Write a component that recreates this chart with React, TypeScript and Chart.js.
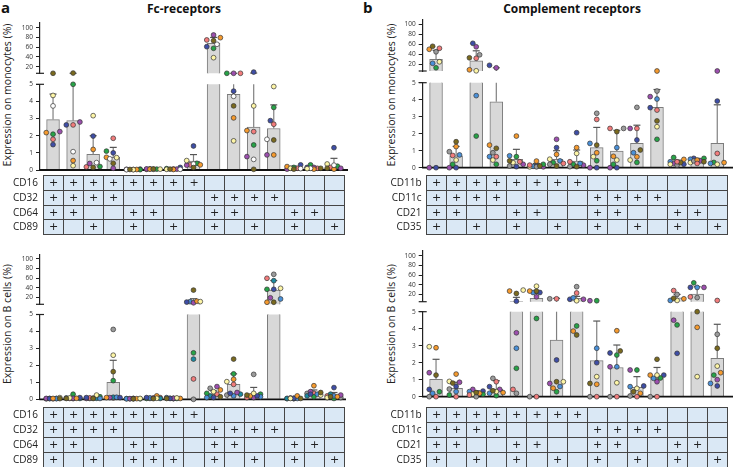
import React, { useEffect, useRef } from 'react';
import { Chart, registerables } from 'chart.js';

Chart.register(...registerables);

const FONT = '"Open Sans", "Noto Sans", sans-serif';
Chart.defaults.font.family = FONT;

const COLUMNS = 15;
const LOW_MAX = 5;
const UPPER_TICKS = [20, 40, 60, 80, 100];
const LOWER_TICKS = [0, 1, 2, 3, 4, 5];

const PALETTE: Record<string, string> = {
  olive: '#7a6a1f',
  yellow: '#fdf5a6',
  white: '#ffffff',
  orange: '#f59a2e',
  purple: '#9c4fae',
  green: '#27a347',
  pink: '#f27c7c',
  navy: '#3f4ea6',
  lightblue: '#4a90d8',
  gray: '#9b9b9b',
  teal: '#1b8aa0',
};

// ---------- table rows ----------
const FC_RECEPTORS = ['CD16', 'CD32', 'CD64', 'CD89'];
const COMP_RECEPTORS = ['CD11b', 'CD11c', 'CD21', 'CD35'];
const FC_MONO_TABLE = [
  [1, 1, 1, 1, 1, 1, 1, 1, 0, 0, 0, 0, 0, 0, 0],
  [1, 1, 1, 1, 0, 0, 0, 0, 1, 1, 1, 1, 0, 0, 0],
  [1, 1, 0, 0, 1, 1, 0, 0, 1, 1, 0, 0, 1, 1, 0],
  [1, 0, 1, 0, 1, 0, 1, 0, 1, 0, 1, 0, 1, 0, 1],
];
const FC_B_TABLE = [
  [1, 1, 1, 1, 1, 1, 1, 1, 0, 0, 0, 0, 0, 0, 0],
  [1, 1, 1, 1, 0, 0, 0, 0, 1, 1, 1, 1, 0, 0, 0],
  [1, 1, 0, 0, 1, 1, 0, 0, 1, 1, 0, 0, 1, 1, 0],
  [1, 0, 1, 0, 1, 1, 1, 0, 1, 0, 1, 0, 1, 0, 1],
];
const COMP_TABLE = [
  [1, 1, 1, 1, 1, 1, 1, 1, 0, 0, 0, 0, 0, 0, 0],
  [1, 1, 1, 1, 0, 0, 0, 0, 1, 1, 1, 1, 0, 0, 0],
  [1, 1, 0, 0, 1, 1, 0, 0, 1, 1, 0, 0, 1, 1, 0],
  [1, 0, 1, 0, 1, 0, 1, 0, 1, 0, 1, 0, 1, 0, 1],
];

// ---------- Fc receptors, monocytes ----------
const FC_MONO_MEAN = [2.94, 2.88, 0.92, 0.74, 0.03, 0.05, 0.06, 0.52, 68, 4.42, 2.5, 2.42, 0.13, 0.13, 0.23];
const FC_MONO_ERR_HI = [4.43, 5.6, 2.0, 1.32, 0.05, 0.08, 0.12, 0.9, 80, 6.2, 7, 3.8, 0.22, 0.2, 0.68];
const FC_MONO_DONORS = ['olive', 'yellow', 'white', 'orange', 'purple', 'green', 'pink', 'navy'];
const FC_MONO_VALUES = [
  [6, 7, 0.15, 0.39, 0.03, 0.06, 0.05, 0.14, 73.3, 3.74, 0.04, 1.75, 0.05, 0.1, 0.1],
  [4.35, 0.25, 3.17, 0.72, 0.02, 0.05, 0.04, 0.55, 38.5, 1.7, 3.74, 4.87, 0.1, 0.08, 0.35],
  [3.74, 1.07, 0.43, 0.65, 0.02, 0.04, 0.04, 0.35, 66, 4.3, 0.62, 1.79, 0.08, 0.1, 0.28],
  [2.18, 0.55, 1.2, 0.74, 0.03, 0.05, 0.03, 0.3, 79.5, 3.04, 2.3, 0.88, 0.2, 0.05, 0.05],
  [2.24, 2.8, 0.38, 0.1, 0.04, 0.06, 0.05, 0.28, 85, 6, 0.78, 0.88, 0.05, 0.15, 0.1],
  [2.09, 5.0, 0.2, 1.1, 0.02, 0.05, 0.08, 0.39, 57.7, 6, 1.46, 3.65, 0.15, 0.3, 0.22],
  [1.79, 2.63, 0.18, 1.85, 0.03, 0.04, 0.06, 0.3, 74.8, 6, 2.24, 2.67, 0.1, 0.1, 0.15],
  [1.48, 2.63, 1.98, 1.0, 0.05, 0.07, 0.15, 1.4, 61, 4.6, 9, 2.88, 0.3, 0.15, 1.3],
];

// ---------- Fc receptors, B cells ----------
const FC_B_MEAN = [0.05, 0.09, 0.09, 1.0, 0.04, 0.08, 0.06, 11, 0.3, 0.88, 0.31, 35, 0.06, 0.35, 0.22];
const FC_B_ERR_HI = [0.08, 0.15, 0.15, 2.3, 0.06, 0.12, 0.09, 17, 0.5, 1.5, 0.7, 55, 0.1, 0.55, 0.4];
const FC_B_DONORS = ['olive', 'yellow', 'orange', 'navy', 'purple', 'lightblue', 'green', 'teal', 'pink', 'gray'];
const FC_B_VALUES = [
  [0.04, 0.05, 0.05, 1.63, 0.03, 0.04, 0.05, 35, 0.15, 2.37, 0.25, 9.7, 0.05, 0.4, 0.15],
  [0.1, 0.08, 0.25, 2.6, 0.05, 0.06, 0.08, 11, 0.45, 1.04, 0.35, 38.8, 0.05, 0.25, 0.1],
  [0.05, 0.06, 0.07, 0.1, 0.04, 0.2, 0.05, 12, 0.55, 1.18, 0.2, 9.7, 0.2, 0.8, 0.15],
  [0.04, 0.1, 0.1, 0.1, 0.04, 0.1, 0.05, 10, 0.1, 0.35, 0.2, 36.7, 0.06, 0.3, 0.69],
  [0.05, 0.06, 0.05, 0.1, 0.04, 0.08, 0.06, 8.5, 0.75, 0.4, 0.1, 19, 0.08, 0.45, 0.25],
  [0.04, 0.08, 0.05, 0.12, 0.03, 0.08, 0.1, 11, 0.1, 0.2, 0.15, 16.5, 0.05, 0.3, 0.2],
  [0.05, 0.3, 0.15, 1.1, 0.03, 0.05, 0.05, 2.74, 0.35, 1.5, 0.3, 36.7, 0.05, 0.15, 0.05],
  [0.05, 0.05, 0.06, 0.12, 0.04, 0.05, 0.04, 2.37, 0.2, 0.3, 0.2, 54.7, 0.05, 0.2, 0.3],
  [0.03, 0.05, 0.08, 0.08, 0.05, 0.1, 0.05, 1.2, 0.3, 0.88, 0.1, 59.7, 0.04, 0.35, 0.2],
  [0.03, 0.04, 0.05, 4.12, 0.03, 0.05, 0.06, 0, 0.65, 0.25, 1.47, 68, 0.04, 0.35, 0.1],
];

// ---------- Complement receptors, monocytes ----------
const COMP_MONO_MEAN = [30, 0.7, 27, 3.88, 0.49, 0.13, 0.49, 0.39, 1.18, 0.98, 1.43, 3.55, 0.3, 0.42, 1.43];
const COMP_MONO_ERR_HI = [48, 1.25, 47, 13, 1.08, 0.25, 1.0, 1.04, 2.37, 2.2, 2.5, 4.6, 0.45, 0.55, 3.7];
const COMP_MONO_DONORS = ['pink', 'olive', 'orange', 'gray', 'yellow', 'lightblue', 'green', 'navy', 'purple'];
const COMP_MONO_VALUES = [
  [52, 0.72, 32, 0.65, 0.35, 0.15, 0.25, 0.35, 2.84, 2.31, 2.31, 3.39, 0.35, 0.25, 0.84],
  [56, 1.53, 33, 1.14, 0.4, 0.1, 0.1, 0.06, 1.33, 2.12, 1.04, 2.75, 0.3, 0.35, null],
  [50, 1.24, 9, 1.33, 1.86, 0.39, 0.78, 1.18, 0.88, 0.67, 0.64, 6, 0.49, 0.45, 0.3],
  [45, 0.94, 39, 0.88, 0.1, 0.05, 0.2, 0.06, 3.2, 2.31, 3.55, 4.51, 0.15, 0.4, null],
  [25, 0.45, 7, 0.45, 0.3, 0.05, 0.5, 0.84, 0.65, 0.45, 0.45, 2.41, 0.2, 0.3, 0.2],
  [22, 0.75, 4.24, 0.65, 0.7, 0.08, 0.4, 0.25, 1.43, 1.18, 0.88, 4.04, 0.35, 0.5, 0.25],
  [13, 0.2, 1.86, 0.2, 0.65, 0.2, 0.3, 0.2, 0.41, 0.2, 0.31, 1.67, 0.6, 0.55, 0.31],
  [0, 0, 62, 18, 0.06, 0.1, 1.18, 2.06, 0, 0, 1.63, 3.53, 0.2, 0.55, 3.92],
  [0, 0, 55, 13, 0.2, 0.05, 1.67, 0.15, 0, 0, 2.31, 4.18, 0.25, 0.4, 6],
];

// ---------- Complement receptors, B cells ----------
const COMP_B_MEAN = [1.02, 0.49, 0.2, 0.43, 5.5, 12, 3.33, 12, 2.12, 1.72, 0.55, 1.08, 13, 20.7, 2.26];
const COMP_B_ERR_HI = [2.2, 0.85, 0.35, 0.94, 14, 22, 12, 16, 4.45, 3.04, 1.18, 1.72, 20, 36, 4.26];
const COMP_B_DONORS = ['pink', 'olive', 'orange', 'gray', 'yellow', 'lightblue', 'green', 'navy', 'purple'];
const COMP_B_VALUES = [
  [0, 0, 0.1, 0.88, 0.43, 0, 11, 23, 0, 0, 0, 0, 28, 15, 7.5],
  [1.27, 0.8, 0.24, 0.35, 22, 27, 0.88, 3.63, 0.78, 2.69, 0.29, 2.2, 12, 5, 2.85],
  [2.88, 1.33, 0.2, 0.24, 27, 27, 0.5, 3.86, 0.73, 3.88, 0.2, 1.27, 11, 4.08, 1.41],
  [0, 0.45, 0, 1.08, 0.2, 0, 11, 36, 0, 0, 0.04, 0, 20, 13.5, 3.67],
  [2.94, 0.9, 0.15, 0.3, 29, 37, 0.88, 7, 1.18, 0.82, 0.49, 1.27, 7.6, 1.18, 1.8],
  [0.2, 0.3, 0.3, 0.2, 2.85, 24, 0.6, 13, 2.85, 1.76, 0.59, 1.08, 7.6, 34.5, 0.78],
  [0.29, 0.1, 0.14, 0.06, 1.67, 4.6, 0.29, 4.16, 7, 2.45, 1.57, 1.1, 4.22, 44, 1.27],
  [0.43, 0.6, 0.33, 0.59, 6, 24, 2.16, 10, 2.0, 2.57, 0.63, 1.27, 2.55, 34.5, 0.63],
  [1.41, 0.85, 0.43, 0.43, 3.76, 15, 0.78, 10, 7, 1.76, 1.57, 0.88, 4.5, 34.5, 1.0],
];

// ---------- layout (page pixels) ----------
type Seg = { min: number; max: number; top: number; bottom: number; ticks: number[] };
type Geom = { axisX: number; right: number; colL: number; colR: number; upper: Seg; lower: Seg };

const G_FC_MONO: Geom = {
  axisX: 40, right: 348, colL: 43, colR: 344,
  upper: { min: 6.5, max: 110, top: 22.8, bottom: 73.3, ticks: UPPER_TICKS },
  lower: { min: 0, max: LOW_MAX, top: 84.3, bottom: 170, ticks: LOWER_TICKS },
};
const G_FC_B: Geom = {
  axisX: 40, right: 346, colL: 43, colR: 344,
  upper: { min: 5.4, max: 110, top: 254.2, bottom: 304.3, ticks: UPPER_TICKS },
  lower: { min: 0, max: LOW_MAX, top: 314.5, bottom: 399.3, ticks: LOWER_TICKS },
};
const G_COMP_MONO: Geom = {
  axisX: 422.7, right: 733, colL: 426, colR: 727.3,
  upper: { min: 6.6, max: 110, top: 19.3, bottom: 71, ticks: UPPER_TICKS },
  lower: { min: 0, max: LOW_MAX, top: 82.7, bottom: 167.7, ticks: LOWER_TICKS },
};
const G_COMP_B: Geom = {
  axisX: 422.7, right: 733, colL: 426, colR: 727.3,
  upper: { min: 5, max: 110, top: 250.9, bottom: 301.7, ticks: UPPER_TICKS },
  lower: { min: 0, max: LOW_MAX, top: 311.7, bottom: 396.7, ticks: LOWER_TICKS },
};

function pageY(g: Geom, v: number) {
  if (v <= LOW_MAX + 0.02) {
    return g.lower.bottom - ((v - g.lower.min) / (g.lower.max - g.lower.min)) * (g.lower.bottom - g.lower.top);
  }
  const vv = Math.max(v, g.upper.min);
  return g.upper.bottom - ((vv - g.upper.min) / (g.upper.max - g.upper.min)) * (g.upper.bottom - g.upper.top);
}

// beeswarm-like horizontal spreading of dots (computed layout, in x-units)
function swarm(g: Geom, values: (number | null)[][]): number[][] {
  const colW = (g.colR - g.colL) / COLUMNS;
  const D = 4.8;
  const STEP = 3.4;
  const out = values.map((r) => r.map(() => 0));
  for (let i = 0; i < COLUMNS; i++) {
    const pts: { d: number; y: number }[] = [];
    values.forEach((row, d) => {
      const v = row[i];
      if (v !== null && v !== undefined) pts.push({ d, y: pageY(g, v) });
    });
    pts.sort((a, b) => b.y - a.y);
    const placed: { x: number; y: number }[] = [];
    for (const p of pts) {
      let best = 0;
      let bestScore = -Infinity;
      for (const k of [0, -1, 1, -2, 2]) {
        const x = k * STEP;
        let minD = Infinity;
        for (const q of placed) minD = Math.min(minD, Math.hypot(q.x - x, q.y - p.y));
        if (minD >= D) { best = x; bestScore = Infinity; break; }
        if (minD > bestScore + 0.01) { bestScore = minD; best = x; }
      }
      placed.push({ x: best, y: p.y });
      out[p.d][i] = best / colW;
    }
  }
  return out;
}

type SegProps = {
  g: Geom; upper: boolean; means: number[]; errHi: number[];
  donors: string[]; values: (number | null)[][]; offsets: number[][];
};

function SegChart({ g, upper, means, errHi, donors, values, offsets }: SegProps) {
  const ref = useRef<HTMLCanvasElement>(null);
  const seg = upper ? g.upper : g.lower;
  const AXW = 30, PAD = 12, PADR = 4;
  const leftF = g.axisX - AXW;
  const cl = Math.floor(leftF);
  const padL = leftF - cl;
  const cw = Math.ceil(g.right + PADR - cl);
  const padR = cw - (g.right - cl);
  const ct = Math.floor(seg.top - PAD);
  const ch = Math.ceil(seg.bottom + PAD) - ct;
  const padT = seg.top - ct;
  const padB = ch - (seg.bottom - ct);
  const colW = (g.colR - g.colL) / COLUMNS;
  const xMin = -0.5 - (g.colL - g.axisX) / colW;
  const xMax = COLUMNS - 0.5 + (g.right - g.colR) / colW;

  useEffect(() => {
    if (!ref.current) return;
    const barData = means.map((m, i) => ({
      x: i,
      y: upper ? (m > LOW_MAX ? Math.max(m, seg.min) : null) : m,
    }));
    const datasets: any[] = [
      {
        type: 'bar',
        data: barData,
        backgroundColor: '#d8d8d8',
        borderColor: '#7c7c7c',
        borderWidth: 1,
        borderSkipped: 'start',
        barThickness: colW * 0.64,
        order: 5,
      },
    ];
    donors.forEach((name, d) => {
      const pts: any[] = [];
      values[d].forEach((v, i) => {
        if (v === null || v === undefined) return;
        const inLow = v <= LOW_MAX + 0.02;
        if (upper === inLow) return;
        pts.push({ x: i + offsets[d][i], y: upper ? Math.max(v, seg.min) : v });
      });
      datasets.push({
        type: 'scatter',
        data: pts,
        pointRadius: 2.4,
        pointHoverRadius: 2.4,
        pointBorderWidth: 0.7,
        pointBackgroundColor: PALETTE[name],
        pointBorderColor: '#333333',
        showLine: false,
        clip: false,
        order: 0,
      });
    });

    const decor = {
      id: 'decor',
      afterDatasetDraw(chart: any, args: any) {
        if (args.index !== 0) return;
        const ctx = chart.ctx;
        const xs = chart.scales.x;
        const ys = chart.scales.y;
        const area = chart.chartArea;
        ctx.save();
        // error bars
        means.forEach((m, i) => {
          const hi = errHi[i];
          const x = xs.getPixelForValue(i);
          let y1: number | null = null;
          let y2: number | null = null;
          let cap = false;
          if (!upper) {
            if (m < LOW_MAX) {
              y1 = ys.getPixelForValue(m);
              y2 = ys.getPixelForValue(Math.min(hi, seg.max));
              cap = hi <= seg.max;
            }
          } else if (hi > LOW_MAX) {
            y1 = m > LOW_MAX ? ys.getPixelForValue(Math.max(m, seg.min)) : area.bottom;
            y2 = ys.getPixelForValue(Math.max(hi, seg.min));
            cap = true;
          }
          if (y1 === null || y2 === null) return;
          ctx.strokeStyle = '#808080';
          ctx.lineWidth = 1.2;
          ctx.beginPath();
          ctx.moveTo(x, y1);
          ctx.lineTo(x, y2);
          ctx.stroke();
          if (cap) {
            ctx.strokeStyle = '#555555';
            ctx.beginPath();
            ctx.moveTo(x - 3.5, y2);
            ctx.lineTo(x + 3.5, y2);
            ctx.stroke();
          }
        });
        // baseline
        if (!upper) {
          const y0 = ys.getPixelForValue(0);
          ctx.strokeStyle = '#111111';
          ctx.lineWidth = 1.8;
          ctx.beginPath();
          ctx.moveTo(area.left - 0.6, y0);
          ctx.lineTo(area.right, y0);
          ctx.stroke();
        }
        ctx.restore();
      },
      afterDraw(chart: any) {
        const ctx = chart.ctx;
        const area = chart.chartArea;
        const y = upper ? area.bottom : area.top;
        ctx.save();
        ctx.strokeStyle = '#222222';
        ctx.lineWidth = 1.2;
        ctx.beginPath();
        ctx.moveTo(area.left - 4, y);
        ctx.lineTo(area.left + 4, y);
        ctx.stroke();
        ctx.restore();
      },
    };

    const chart = new Chart(ref.current, {
      type: 'bar',
      data: { datasets },
      options: {
        animation: false,
        responsive: false,
        devicePixelRatio: 1,
        events: [],
        layout: { padding: { left: padL, right: padR, top: padT, bottom: padB } },
        plugins: { legend: { display: false }, tooltip: { enabled: false } },
        scales: {
          x: { type: 'linear', display: false, offset: false, min: xMin, max: xMax },
          y: {
            type: 'linear',
            min: seg.min,
            max: seg.max,
            afterFit: (s: any) => { s.width = AXW; },
            afterBuildTicks: (s: any) => { s.ticks = seg.ticks.map((v) => ({ value: v })); },
            ticks: { font: { family: FONT, size: 6.5 }, color: '#333333', padding: 3, autoSkip: false },
            grid: { drawOnChartArea: false, drawTicks: true, tickLength: 4, color: '#222222', lineWidth: 1 },
            border: { display: true, color: '#222222', width: 1.2 },
          },
        },
      } as any,
      plugins: [decor],
    } as any);
    return () => chart.destroy();
  }, []);

  return (
    <canvas
      ref={ref}
      width={cw}
      height={ch}
      style={{ position: 'absolute', left: cl, top: ct, width: cw, height: ch, display: 'block' }}
    />
  );
}

function ReceptorTable({ x0, x1, y0, y1, labelRight, labels, marks }: {
  x0: number; x1: number; y0: number; y1: number; labelRight: number; labels: string[]; marks: number[][];
}) {
  const colW = (x1 - x0) / COLUMNS;
  const rowH = (y1 - y0) / labels.length;
  const cells: any[] = [];
  labels.forEach((lab, r) => {
    cells.push(
      <div key={'l' + r} style={{
        position: 'absolute', left: labelRight - 60, width: 60, top: y0 + r * rowH, height: rowH,
        lineHeight: rowH + 'px', textAlign: 'right', fontSize: 10, color: '#222',
      }}>{lab}</div>
    );
    for (let c = 0; c < COLUMNS; c++) {
      const l = Math.round(x0 + c * colW);
      const rr = Math.round(x0 + (c + 1) * colW);
      const t = Math.round(y0 + r * rowH);
      const b = Math.round(y0 + (r + 1) * rowH);
      cells.push(
        <div key={r + '-' + c} style={{
          position: 'absolute', left: l, top: t, width: rr - l + 1, height: b - t + 1,
          boxSizing: 'border-box', border: '1px solid #454545', background: '#dae8f5',
          textAlign: 'center', lineHeight: (b - t - 1) + 'px', fontSize: 11,
          fontFamily: '"DejaVu Sans", sans-serif', color: '#222',
        }}>{marks[r][c] ? '+' : ''}</div>
      );
    }
  });
  return <>{cells}</>;
}

function Panel({ g, means, errHi, donors, values }: {
  g: Geom; means: number[]; errHi: number[]; donors: string[]; values: (number | null)[][];
}) {
  const offsets = swarm(g, values);
  return (
    <>
      <SegChart g={g} upper={true} means={means} errHi={errHi} donors={donors} values={values} offsets={offsets} />
      <SegChart g={g} upper={false} means={means} errHi={errHi} donors={donors} values={values} offsets={offsets} />
    </>
  );
}

function VTitle({ cx, cy, text }: { cx: number; cy: number; text: string }) {
  return (
    <div style={{
      position: 'absolute', left: cx - 100, top: cy - 8, width: 200, height: 16, lineHeight: '16px',
      textAlign: 'center', fontSize: 10.5, color: '#222', transform: 'rotate(-90deg)', whiteSpace: 'nowrap',
    }}>{text}</div>
  );
}

export default function App() {
  return (
    <div style={{
      position: 'fixed', left: 0, top: 0, width: 735, height: 467, background: '#ffffff',
      overflow: 'hidden', fontFamily: FONT,
    }}>
      <div style={{ position: 'absolute', left: 1, top: -3, fontSize: 15, fontWeight: 700, color: '#111' }}>a</div>
      <div style={{ position: 'absolute', left: 363, top: -3, fontSize: 15, fontWeight: 700, color: '#111' }}>b</div>
      <div style={{ position: 'absolute', left: 84, width: 200, top: 0, textAlign: 'center', fontSize: 12, fontWeight: 700, color: '#111' }}>Fc-receptors</div>
      <div style={{ position: 'absolute', left: 472, width: 200, top: 0, textAlign: 'center', fontSize: 12, fontWeight: 700, color: '#111' }}>Complement receptors</div>

      <VTitle cx={7} cy={95} text="Expression on monocytes (%)" />
      <VTitle cx={7} cy={324} text="Expression on B cells (%)" />
      <VTitle cx={391} cy={95} text="Expression on monocytes (%)" />
      <VTitle cx={391} cy={324} text="Expression on B cells (%)" />

      <Panel g={G_FC_MONO} means={FC_MONO_MEAN} errHi={FC_MONO_ERR_HI} donors={FC_MONO_DONORS} values={FC_MONO_VALUES} />
      <Panel g={G_FC_B} means={FC_B_MEAN} errHi={FC_B_ERR_HI} donors={FC_B_DONORS} values={FC_B_VALUES} />
      <Panel g={G_COMP_MONO} means={COMP_MONO_MEAN} errHi={COMP_MONO_ERR_HI} donors={COMP_MONO_DONORS} values={COMP_MONO_VALUES} />
      <Panel g={G_COMP_B} means={COMP_B_MEAN} errHi={COMP_B_ERR_HI} donors={COMP_B_DONORS} values={COMP_B_VALUES} />

      <ReceptorTable x0={43} x1={344} y0={175} y1={234} labelRight={38} labels={FC_RECEPTORS} marks={FC_MONO_TABLE} />
      <ReceptorTable x0={43} x1={344} y0={407.3} y1={466.7} labelRight={38} labels={FC_RECEPTORS} marks={FC_B_TABLE} />
      <ReceptorTable x0={426} x1={727.3} y0={175} y1={234} labelRight={421.5} labels={COMP_RECEPTORS} marks={COMP_TABLE} />
      <ReceptorTable x0={426} x1={727.3} y0={407.3} y1={466.7} labelRight={421.5} labels={COMP_RECEPTORS} marks={COMP_TABLE} />
    </div>
  );
}
